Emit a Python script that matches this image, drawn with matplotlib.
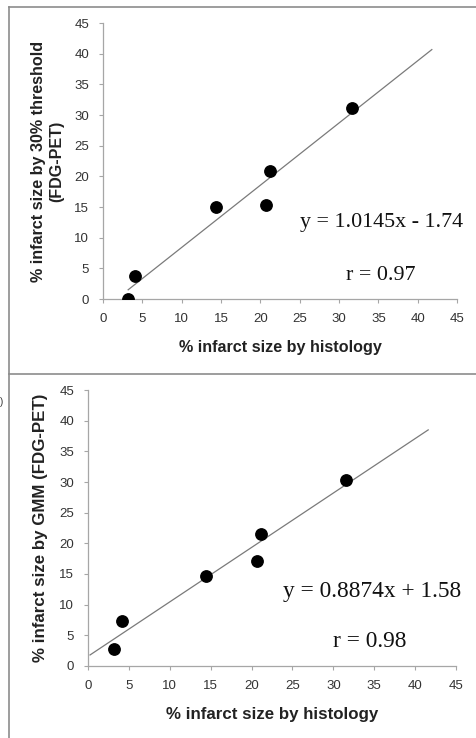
import matplotlib
matplotlib.use("Agg")
import matplotlib.pyplot as plt
from matplotlib.lines import Line2D

# histology vs. FDG-PET infarct size (%)
histology = [3.2, 4.1, 14.4, 20.7, 21.2, 31.6]
threshold_pet = [0.0, 3.8, 15.0, 15.3, 20.8, 31.1]
gmm_pet = [2.7, 7.4, 14.6, 17.2, 21.6, 30.3]

fit_threshold = (1.0145, -1.74)
fit_gmm = (0.8874, 1.58)
fit_range_threshold = [3.2, 41.8]
fit_range_gmm = [0.25, 41.6]

ticks = list(range(0, 50, 5))

plt.rcParams["font.family"] = ["Liberation Sans", "DejaVu Sans"]

fig = plt.figure(figsize=(4.76, 7.38), dpi=100)

# panel frames
frame = dict(color="#8c8c8c", linewidth=1.2, transform=fig.transFigure)
fig.add_artist(Line2D([9 / 476, 1.0], [1 - 7 / 738] * 2, **frame))
fig.add_artist(Line2D([9 / 476, 1.0], [1 - 374 / 738] * 2, **frame))
fig.add_artist(Line2D([9 / 476] * 2, [0.0, 1 - 7 / 738], **frame))
fig.text(0.0, 1 - 402 / 738, ")", fontsize=7, color="#333333", va="center")


def panel(rect, yvals, fit, xr, ylabel, eq, r, eq_pos, r_pos, ylabelpad, lsize,
          xlabelpad, tsize):
    ax = fig.add_axes(rect)
    ax.plot(xr, [fit[0] * x + fit[1] for x in xr], color="#7a7a7a", linewidth=0.9)
    ax.plot(histology, yvals, "o", color="black", markersize=8.2, zorder=3)
    ax.set_xlim(0, 45)
    ax.set_ylim(0, 45)
    ax.set_xticks(ticks)
    ax.set_yticks(ticks)
    for side in ("top", "right"):
        ax.spines[side].set_visible(False)
    for side in ("left", "bottom"):
        ax.spines[side].set_color("#a6a6a6")
        ax.spines[side].set_linewidth(0.9)
    ax.tick_params(length=3, width=0.8, color="#a6a6a6", labelsize=9.5,
                   labelcolor="#333333", pad=7)
    ax.set_xlabel("% infarct size by histology", fontsize=lsize, fontweight="bold",
                  color="#222222", labelpad=xlabelpad)
    ax.set_ylabel(ylabel, fontsize=lsize, fontweight="bold", color="#222222",
                  labelpad=ylabelpad, linespacing=1.3)
    ax.text(*eq_pos, eq, family="Liberation Serif", fontsize=tsize, va="center",
            color="#111111")
    ax.text(*r_pos, r, family="Liberation Serif", fontsize=tsize, va="center",
            color="#111111")
    ax.set_facecolor("none")
    return ax


panel([103 / 476, 1 - 299 / 738, 354 / 476, 276 / 738], threshold_pet,
      fit_threshold, fit_range_threshold,
      "% infarct size by 30% threshold\n(FDG-PET)",
      "y = 1.0145x - 1.74", "r = 0.97", (25.0, 12.4), (30.9, 3.9), 7, 11.6, 11, 15.8)

panel([88 / 476, 1 - 666 / 738, 368 / 476, 276 / 738], gmm_pet,
      fit_gmm, fit_range_gmm,
      "% infarct size by GMM (FDG-PET)",
      "y = 0.8874x + 1.58", "r = 0.98", (23.9, 12.1), (30.0, 4.0), 8, 12.2, 11, 16.8)

fig.savefig("out.png", dpi=100)
